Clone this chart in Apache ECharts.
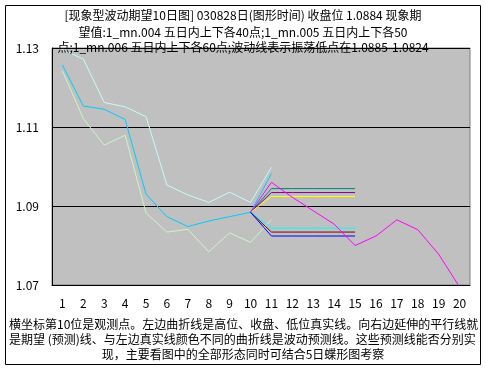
<!DOCTYPE html>
<html>
<head>
<meta charset="utf-8">
<script src="https://cdn.jsdelivr.net/npm/echarts@6/dist/echarts.min.js"></script>
<style>html,body{margin:0;padding:0;background:#fff}#c{width:486px;height:369px}</style>
</head>
<body>
<div id="c"></div>
<script>
const categories = ['1','2','3','4','5','6','7','8','9','10','11','12','13','14','15','16','17','18','19','20'];
const yTicks = [1.07, 1.09, 1.11, 1.13];
const highLine  = [1.1296, 1.1272, 1.1162, 1.1151, 1.1126, 1.0953, 1.0928, 1.0909, 1.0935, 1.0909, 1.0998];
const closeLine = [1.1257, 1.1153, 1.1145, 1.1119, 1.0930, 1.0873, 1.0848, 1.0862, 1.0873, 1.0884, 1.0982];
const lowLine   = [1.1242, 1.1121, 1.1054, 1.1079, 1.0882, 1.0834, 1.0841, 1.0784, 1.0832, 1.0808, 1.0866];
const waveLine  = [null, null, null, null, null, null, null, null, null, 1.0884, 1.0960, 1.0922, 1.0888, 1.0854, 1.0800, 1.0824, 1.0865, 1.0840, 1.0778, 1.0695];
const observeClose = 1.0884;
const expectLevels = [1.0944, 1.0934, 1.0924, 1.0844, 1.0834, 1.0824];
const expectNames = ['+60', '+50', '+40', '-40', '-50', '-60'];
const titleLines = [
  '[现象型波动期望10日图] 030828日(图形时间) 收盘位 1.0884 现象期',
  '望值:1_mn.004 五日内上下各40点;1_mn.005 五日内上下各50',
  '点;1_mn.006 五日内上下各60点;波动线表示振荡低点在1.0885-1.0824'
];
const noteLines = [
  '横坐标第10位是观测点。左边曲折线是高位、收盘、低位真实线。向右边延伸的平行线就',
  '是期望 (预测)线、与左边真实线颜色不同的曲折线是波动预测线。这些预测线能否分别实',
  '现，主要看图中的全部形态同时可结合5日蝶形图考察'
];

const expectColors = ['#008080', '#800080', '#ffff00', '#00ffff', '#800000', '#0000ff'];

function expectData(level) {
  const d = new Array(categories.length).fill(null);
  d[9] = observeClose;
  for (let i = 10; i <= 14; i++) d[i] = level;
  return d;
}

function lineSeries(name, data, color) {
  return {
    name, type: 'line', data, showSymbol: false, symbol: 'none',
    lineStyle: { color, width: 1 }, itemStyle: { color },
    connectNulls: false, clip: true, silent: true, animation: false
  };
}

const series = [
  lineSeries('high', highLine, '#c8fafa'),
  lineSeries('low', lowLine, '#ccf5c8'),
  lineSeries('close', closeLine, '#00ccff')
];
expectLevels.forEach((lv, i) => series.push(lineSeries(expectNames[i], expectData(lv), expectColors[i])));
series.push(lineSeries('wave', waveLine, '#ff00ff'));

const font = '"Noto Sans CJK SC", "Noto Sans", sans-serif';
const graphics = [
  { type: 'rect', shape: { x: 5.5, y: 5.5, width: 475, height: 359 }, style: { fill: 'none', stroke: '#000', lineWidth: 1 }, z: 1 }
];
const titleY = [15.5, 32, 47];
titleLines.forEach((t, i) => graphics.push({
  type: 'text', x: 243, y: titleY[i], z: 100,
  style: { text: t, fill: '#000', font: '12px ' + font, textAlign: 'center', textVerticalAlign: 'middle' }
}));
const noteY = [324, 339, 354];
noteLines.forEach((t, i) => graphics.push({
  type: 'text', x: i < 2 ? 9 : 243, y: noteY[i], z: 100,
  style: { text: t, fill: '#000', font: '12px ' + font, textAlign: i < 2 ? 'left' : 'center', textVerticalAlign: 'middle' }
}));

const chart = echarts.init(document.getElementById('c'), null, { renderer: 'canvas' });
chart.setOption({
  animation: false,
  backgroundColor: '#fff',
  grid: { left: 52, right: 16, top: 48, bottom: 84, show: true, backgroundColor: '#c0c0c0', borderColor: '#808080', borderWidth: 1 },
  xAxis: {
    type: 'category', data: categories, boundaryGap: true,
    axisLine: { lineStyle: { color: '#000', width: 1 } },
    axisTick: { inside: true, length: 3, lineStyle: { color: '#000' } },
    axisLabel: { color: '#000', fontSize: 12, margin: 12, fontFamily: font, interval: 0 },
    splitLine: { show: false }
  },
  yAxis: {
    type: 'value', min: yTicks[0], max: yTicks[yTicks.length - 1], interval: 0.02,
    axisLine: { show: true, lineStyle: { color: '#000', width: 1 } },
    axisTick: { show: true, inside: true, length: 3, lineStyle: { color: '#000' } },
    axisLabel: { color: '#000', fontSize: 12, margin: 13, fontFamily: font, formatter: v => v.toFixed(2) },
    splitLine: { show: true, lineStyle: { color: '#000', width: 1 } }
  },
  series,
  graphic: graphics
});
</script>
</body>
</html>
